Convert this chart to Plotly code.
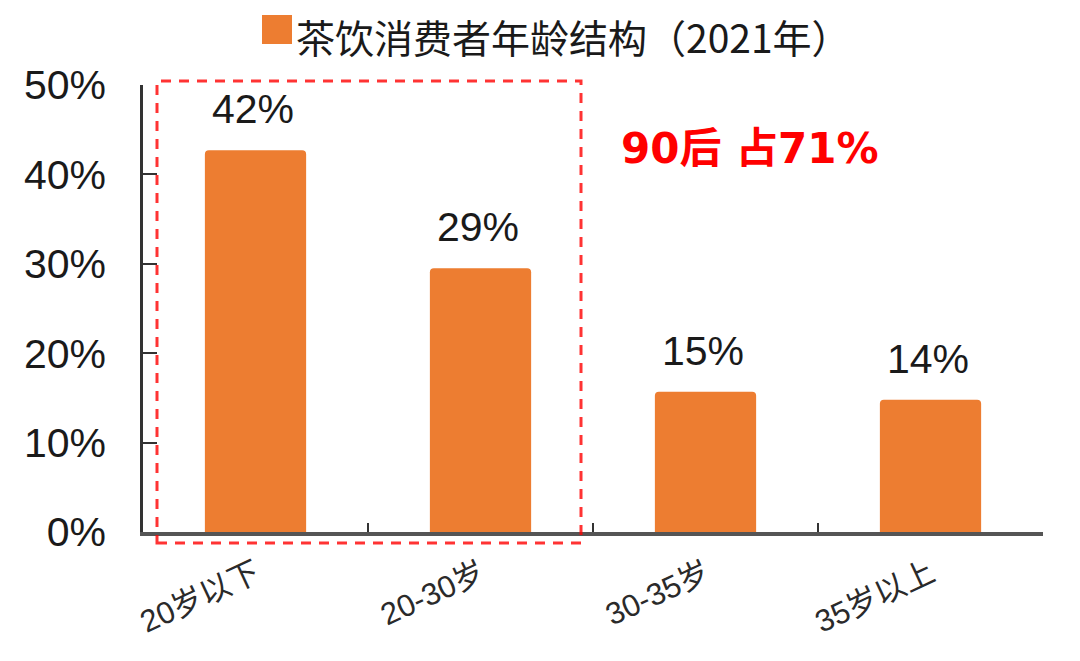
import plotly.graph_objects as go

categories = ["20岁以下", "20-30岁", "30-35岁", "35岁以上"]
values = [42.7, 29.5, 15.7, 14.8]
value_labels = ["42%", "29%", "15%", "14%"]
legend_name = "茶饮消费者年龄结构（2021年）"
callout = "90后 占71%"
y_ticks = [0, 10, 20, 30, 40, 50]
y_tick_labels = ["0%", "10%", "20%", "30%", "40%", "50%"]

FONT = "Liberation Sans, Arial, Noto Sans CJK SC, sans-serif"
ORANGE = "#ED7D31"

# page body has an 8px offset; plot area targets x 143..1043, y 85..532 in the screenshot
L, T, R, B = 135, 77, 45, 137
PW, PH = 900, 447


def px_x(p):
    return (p - 143) / PW


def px_y(p):
    return (532 - p) / PH


fig = go.Figure()
fig.add_trace(go.Bar(
    x=categories, y=values, width=0.45,
    marker=dict(color=ORANGE, cornerradius=4, line=dict(width=0)),
    name=legend_name, showlegend=False,
))

for c, v, t in zip(categories, values, value_labels):
    fig.add_annotation(x=c, y=v, text=t, showarrow=False, yanchor="bottom", yshift=16, xshift=-3,
                       font=dict(family=FONT, size=41, color="#1a1a1a"))

fig.add_annotation(x=2.198, y=42.95, text=callout, showarrow=False, xanchor="center", yanchor="middle",
                   font=dict(family="DejaVu Sans, Noto Sans CJK SC", size=42, color="#FF0000", weight="bold"))

# dashed highlight box around first two categories
fig.add_shape(type="rect", xref="paper", yref="paper",
              x0=px_x(157), x1=px_x(581), y0=px_y(543), y1=px_y(81),
              line=dict(color="rgba(255,0,0,0.8)", width=3, dash="10px,8px"), fillcolor="rgba(0,0,0,0)",
              layer="above")

# legend (manual)
fig.add_shape(type="rect", xref="paper", yref="paper",
              x0=px_x(262), x1=px_x(292), y0=px_y(44), y1=px_y(15),
              line=dict(width=0), fillcolor=ORANGE)
fig.add_annotation(xref="paper", yref="paper", x=px_x(295), y=px_y(36), text=legend_name, showarrow=False,
                   xanchor="left", yanchor="middle", borderpad=0,
                   font=dict(family="Noto Sans CJK JP, Liberation Sans", size=39, color="#1a1a1a"))

fig.update_layout(
    width=1080, height=661,
    margin=dict(l=L, r=R, t=T, b=B),
    paper_bgcolor="white", plot_bgcolor="white",
    font=dict(family=FONT),
)
fig.update_yaxes(range=[0, 50], tickvals=y_ticks, ticktext=y_tick_labels,
                 ticks="inside", ticklen=14, tickwidth=2, tickcolor="#333",
                 showline=True, linecolor="#333", linewidth=2.5, showgrid=False, zeroline=False,
                 ticklabelstandoff=26,
                 tickfont=dict(family=FONT, size=41, color="#1a1a1a"))
fig.update_xaxes(type="category", ticks="inside", tickson="boundaries", ticklen=9, tickwidth=2,
                 tickcolor="#333", showline=True, linecolor="#555", linewidth=3.5, showgrid=False,
                 tickangle=-25, ticklabelstandoff=8,
                 tickfont=dict(family="Liberation Sans, Noto Sans CJK SC", size=31, color="#2a2a2a"))

fig.write_html("out.html")
